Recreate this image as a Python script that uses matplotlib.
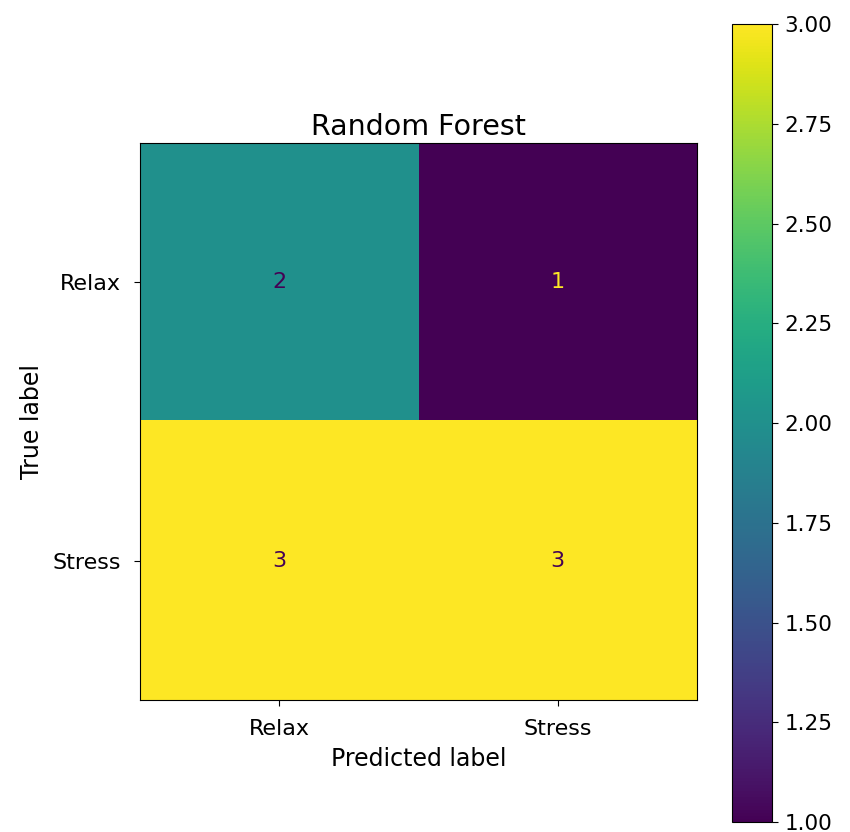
import matplotlib
matplotlib.use("Agg")
import matplotlib.pyplot as plt
import numpy as np

labels = ["Relax", "Stress"]
cm_values = [[2, 1],
             [3, 3]]
title = "Random Forest"

cm = np.array(cm_values)
fig = plt.figure(figsize=(8.5, 8.32), dpi=100)
ax = fig.add_axes([0.1647, 0.1587, 0.6553, 0.6695])
cax = fig.add_axes([0.8612, 0.012, 0.0471, 0.959])

cmap = plt.get_cmap("viridis")
im = ax.imshow(cm, cmap=cmap, interpolation="nearest", aspect="auto")
cmax, cmin = cmap(1.0), cmap(0.0)
thresh = (cm.max() + cm.min()) / 2.0
for i in range(cm.shape[0]):
    for j in range(cm.shape[1]):
        color = cmax if cm[i, j] < thresh else cmin
        ax.text(j, i, format(cm[i, j], "d"), ha="center", va="center",
                color=color, fontsize=16)

ax.set_xticks(range(len(labels)))
ax.set_xticklabels(labels, fontsize=16)
ax.set_yticks(range(len(labels)))
ax.set_yticklabels(labels, fontsize=16)
ax.tick_params(length=4.5, pad=9)
ax.set_xlabel("Predicted label", fontsize=17, labelpad=6)
ax.set_ylabel("True label", fontsize=17, labelpad=6)
ax.set_title(title, fontsize=20.5, pad=6)

cb = fig.colorbar(im, cax=cax)
cb.set_ticks([1.0, 1.25, 1.5, 1.75, 2.0, 2.25, 2.5, 2.75, 3.0])
cb.ax.set_yticklabels(["1.00", "1.25", "1.50", "1.75", "2.00", "2.25", "2.50", "2.75", "3.00"])
cb.ax.tick_params(labelsize=15.5, length=4.5, pad=4.5)

fig.savefig("out.png", dpi=100)
